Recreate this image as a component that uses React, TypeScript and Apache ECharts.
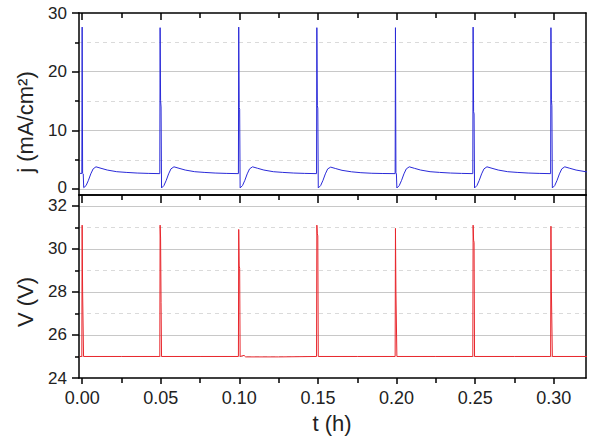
import React, { useEffect, useRef } from 'react';
import * as echarts from 'echarts';

// ---- tick values ----
const xMajorTicks = [0, 0.05, 0.1, 0.15, 0.2, 0.25, 0.3];
const xMinorTicks = [0.025, 0.075, 0.125, 0.175, 0.225, 0.275];
const jMajorTicks = [0, 10, 20, 30];
const jMinorTicks = [5, 15, 25];
const vMajorTicks = [24, 26, 28, 30, 32];
const vMinorTicks = [25, 27, 29, 31];

// ---- current density j (mA/cm²) vs t (h) ----
const currentDensity: [number, number][] = [
  [-0.0015, 2.7], [-0.0002, 2.65],
  [0.0000, 27.6], [0.0003, 2.7], [0.0007, 2.6], [0.0010, 0.25], [0.0025, 0.6], [0.0040, 1.5], [0.0055, 2.6], [0.0070, 3.45], [0.0088, 3.8], [0.0120, 3.55], [0.0160, 3.25], [0.0220, 2.97], [0.0280, 2.85], [0.0350, 2.74], [0.0420, 2.68], [0.0494, 2.64],
  [0.0496, 27.5], [0.0499, 15.1], [0.0502, 14.0], [0.0505, 0.2], [0.0520, 0.6], [0.0535, 1.5], [0.0550, 2.6], [0.0565, 3.45], [0.0584, 3.8], [0.0616, 3.55], [0.0656, 3.25], [0.0716, 2.97], [0.0776, 2.85], [0.0846, 2.74], [0.0916, 2.68], [0.0994, 2.64],
  [0.0996, 27.6], [0.0999, 13.9], [0.1002, 13.6], [0.1005, 0.2], [0.1020, 0.6], [0.1035, 1.5], [0.1050, 2.6], [0.1065, 3.45], [0.1084, 3.8], [0.1116, 3.55], [0.1156, 3.25], [0.1216, 2.97], [0.1276, 2.85], [0.1346, 2.74], [0.1416, 2.68], [0.1491, 2.64],
  [0.1493, 27.5], [0.1496, 14.2], [0.1499, 13.8], [0.1502, 0.2], [0.1517, 0.6], [0.1532, 1.5], [0.1547, 2.6], [0.1562, 3.45], [0.1581, 3.75], [0.1613, 3.5], [0.1653, 3.2], [0.1713, 2.95], [0.1773, 2.8], [0.1843, 2.7], [0.1913, 2.66], [0.1991, 2.64],
  [0.1993, 27.5], [0.1996, 2.8], [0.1999, 2.6], [0.2002, 0.2], [0.2017, 0.6], [0.2032, 1.5], [0.2047, 2.6], [0.2062, 3.45], [0.2081, 3.8], [0.2113, 3.55], [0.2153, 3.25], [0.2213, 2.97], [0.2273, 2.85], [0.2343, 2.74], [0.2413, 2.68], [0.2485, 2.64],
  [0.2487, 27.6], [0.2490, 13.2], [0.2493, 12.8], [0.2496, 0.2], [0.2511, 0.6], [0.2526, 1.5], [0.2541, 2.6], [0.2556, 3.45], [0.2575, 3.8], [0.2607, 3.55], [0.2647, 3.25], [0.2707, 2.97], [0.2767, 2.85], [0.2837, 2.74], [0.2907, 2.68], [0.2980, 2.64],
  [0.2982, 27.5], [0.2985, 15.2], [0.2988, 14.2], [0.2991, 0.2], [0.3006, 0.6], [0.3021, 1.5], [0.3036, 2.6], [0.3051, 3.45], [0.3070, 3.8], [0.3102, 3.55], [0.3142, 3.25], [0.3202, 2.97], [0.3215, 2.93],
];

// ---- voltage V (V) vs t (h) ----
const voltage: [number, number][] = [
  [-0.0015, 25.0], [-0.0002, 25.0],
  [0.0000, 31.1], [0.0003, 28.0], [0.0006, 28.0], [0.0009, 25.0], [0.0250, 25.0], [0.0494, 25.0],
  [0.0496, 31.1], [0.0499, 30.5], [0.0502, 27.5], [0.0505, 25.0], [0.0750, 25.0], [0.0994, 25.0],
  [0.0996, 30.9], [0.0999, 29.2], [0.1002, 29.1], [0.1005, 25.0], [0.1030, 25.05], [0.1040, 24.98], [0.1250, 24.98], [0.1491, 25.0],
  [0.1493, 31.1], [0.1496, 30.7], [0.1499, 30.6], [0.1502, 25.0], [0.1750, 25.0], [0.1991, 25.0],
  [0.1993, 30.95], [0.1996, 28.0], [0.1999, 28.0], [0.2002, 25.0], [0.2250, 25.0], [0.2485, 25.0],
  [0.2487, 31.1], [0.2490, 30.4], [0.2493, 30.3], [0.2496, 25.0], [0.2750, 25.0], [0.2980, 25.0],
  [0.2982, 31.05], [0.2985, 28.0], [0.2988, 28.0], [0.2991, 25.0], [0.3215, 25.0],
];

const FONT = '"Liberation Sans", Arial, sans-serif';
const AXIS_LINE = { color: '#000', width: 1.5 };
const GRID_SOLID = { color: '#c8c8c8', width: 1, type: 'solid' as const };
const GRID_DASH = { color: '#dadada', width: 1, type: [4, 4] as any };
const X_MIN = -0.002;
const X_MAX = 0.3205;

function xAxisDef(gridIndex: number, position: 'top' | 'bottom', o: any) {
  return {
    type: 'value',
    gridIndex,
    position,
    min: X_MIN,
    max: X_MAX,
    axisLine: { show: o.line ?? false, onZero: false, lineStyle: AXIS_LINE },
    axisTick: o.ticks
      ? { show: true, inside: o.inside, length: o.len, customValues: o.ticks, lineStyle: AXIS_LINE }
      : { show: false },
    axisLabel: o.labels
      ? {
          show: true,
          customValues: o.labels,
          margin: 11,
          fontSize: 18,
          fontFamily: FONT,
          color: '#222',
          formatter: (v: number) => v.toFixed(2),
        }
      : { show: false },
    splitLine: { show: false },
  };
}

function yAxisDef(gridIndex: number, position: 'left' | 'right', min: number, max: number, o: any) {
  return {
    type: 'value',
    gridIndex,
    position,
    min,
    max,
    axisLine: { show: o.line ?? false, onZero: false, lineStyle: AXIS_LINE },
    axisTick: o.ticks
      ? { show: true, inside: false, length: o.len, customValues: o.ticks, lineStyle: AXIS_LINE }
      : { show: false },
    axisLabel: o.labels
      ? {
          show: true,
          customValues: o.labels,
          margin: 12,
          fontSize: 17,
          fontFamily: FONT,
          color: '#222',
          formatter: (v: number) => (v === 0 ? '{z|0}' : String(v)),
          rich: { z: { fontSize: 17, fontFamily: FONT, color: '#222', padding: [0, 0, 4, 0] } },
        }
      : { show: false },
    splitLine: o.split
      ? {
          show: true,
          lineStyle: o.split,
          showMinLine: o.showMin ?? true,
          showMaxLine: o.showMax ?? true,
        }
      : { show: false },
  };
}

export default function App() {
  const ref = useRef<HTMLDivElement>(null);

  useEffect(() => {
    document.body.style.margin = '0';
    if (!ref.current) return;
    const chart = echarts.init(ref.current, undefined, { renderer: 'svg' });
    chart.setOption({
      animation: false,
      backgroundColor: '#fff',
      grid: [
        { left: 79, right: 14, top: 13, height: 182 },
        { left: 79, right: 14, top: 195, height: 183 },
      ],
      xAxis: [
        xAxisDef(0, 'bottom', { line: true }),
        xAxisDef(0, 'top', { line: true, ticks: xMajorTicks, inside: true, len: 7 }),
        xAxisDef(0, 'top', { ticks: xMinorTicks, inside: true, len: 5 }),
        xAxisDef(1, 'bottom', { line: true, ticks: xMajorTicks, inside: false, len: 6, labels: xMajorTicks }),
        xAxisDef(1, 'bottom', { ticks: xMinorTicks, inside: false, len: 5 }),
        xAxisDef(1, 'top', { line: true, ticks: xMajorTicks, inside: true, len: 8 }),
        xAxisDef(1, 'top', { ticks: xMinorTicks, inside: true, len: 5 }),
      ],
      yAxis: [
        yAxisDef(0, 'left', -1, 30, { line: true, ticks: jMajorTicks, len: 7, labels: jMajorTicks, split: GRID_SOLID, showMax: false }),
        yAxisDef(0, 'left', -1, 30, { ticks: jMinorTicks, len: 4, split: GRID_DASH }),
        yAxisDef(0, 'right', -1, 30, { line: true }),
        yAxisDef(1, 'left', 24, 32.5, { line: true, ticks: vMajorTicks, len: 7, labels: vMajorTicks, split: GRID_SOLID, showMin: false }),
        yAxisDef(1, 'left', 24, 32.5, { ticks: vMinorTicks, len: 4, split: GRID_DASH }),
        yAxisDef(1, 'right', 24, 32.5, { line: true }),
      ],
      series: [
        {
          type: 'line',
          xAxisIndex: 0,
          yAxisIndex: 0,
          data: currentDensity,
          showSymbol: false,
          symbol: 'none',
          lineStyle: { color: '#2a2ad8', width: 1 },
          z: 5,
        },
        {
          type: 'line',
          xAxisIndex: 3,
          yAxisIndex: 3,
          data: voltage,
          showSymbol: false,
          symbol: 'none',
          lineStyle: { color: '#e8262c', width: 1 },
          z: 5,
        },
      ],
      graphic: [
        {
          type: 'text',
          x: 25,
          y: 122,
          rotation: Math.PI / 2,
          style: {
            text: 'j (mA/cm²)',
            font: `22px ${FONT}`,
            fill: '#222',
            textAlign: 'center',
            textVerticalAlign: 'middle',
          },
        },
        {
          type: 'text',
          x: 25,
          y: 302,
          rotation: Math.PI / 2,
          style: {
            text: 'V (V)',
            font: `22px ${FONT}`,
            fill: '#222',
            textAlign: 'center',
            textVerticalAlign: 'middle',
          },
        },
        {
          type: 'text',
          x: 332,
          y: 423,
          style: {
            text: 't (h)',
            font: `22px ${FONT}`,
            fill: '#222',
            textAlign: 'center',
            textVerticalAlign: 'middle',
          },
        },
      ],
    });
    return () => chart.dispose();
  }, []);

  return <div ref={ref} style={{ width: 600, height: 443 }} />;
}
